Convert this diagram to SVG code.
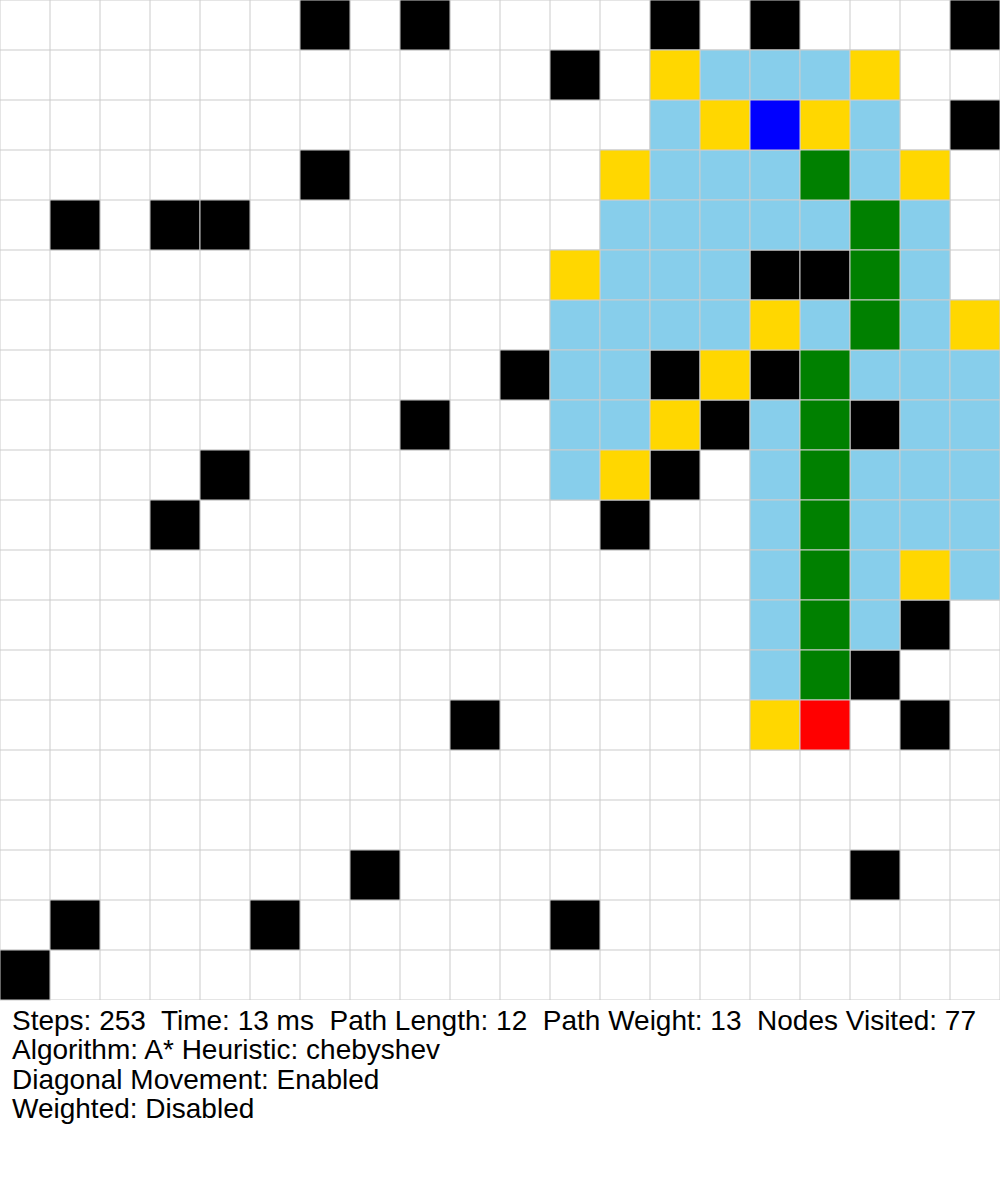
<svg xmlns="http://www.w3.org/2000/svg" width="1000" height="1200" viewBox="0 0 1000 1200">
<style>
rect{stroke:#ccc;stroke-width:1}
.e{fill:#fff}.w{fill:#000}.v{fill:#87ceeb}.f{fill:#ffd700}.p{fill:#008000}.s{fill:#0000ff}.t{fill:#ff0000}
text{font-family:"Liberation Sans",Arial,sans-serif;font-size:28px;fill:#000;white-space:pre}
</style>
<rect x="0" y="0" width="1000" height="1200" style="fill:#fff;stroke:none"/>
<defs>
<pattern id="g" width="50" height="50" patternUnits="userSpaceOnUse">
<rect x="0" y="0" width="50" height="50" class="e"/>
</pattern>
</defs>
<g id="grid">
<rect x="0" y="0" width="1000" height="1000" style="fill:url(#g);stroke:none"/>
</g>
<g id="walls">
<rect x="300" y="0" width="50" height="50" class="w"/>
<rect x="400" y="0" width="50" height="50" class="w"/>
<rect x="650" y="0" width="50" height="50" class="w"/>
<rect x="750" y="0" width="50" height="50" class="w"/>
<rect x="950" y="0" width="50" height="50" class="w"/>
<rect x="550" y="50" width="50" height="50" class="w"/>
<rect x="950" y="100" width="50" height="50" class="w"/>
<rect x="300" y="150" width="50" height="50" class="w"/>
<rect x="50" y="200" width="50" height="50" class="w"/>
<rect x="150" y="200" width="50" height="50" class="w"/>
<rect x="200" y="200" width="50" height="50" class="w"/>
<rect x="750" y="250" width="50" height="50" class="w"/>
<rect x="800" y="250" width="50" height="50" class="w"/>
<rect x="500" y="350" width="50" height="50" class="w"/>
<rect x="650" y="350" width="50" height="50" class="w"/>
<rect x="750" y="350" width="50" height="50" class="w"/>
<rect x="400" y="400" width="50" height="50" class="w"/>
<rect x="700" y="400" width="50" height="50" class="w"/>
<rect x="850" y="400" width="50" height="50" class="w"/>
<rect x="200" y="450" width="50" height="50" class="w"/>
<rect x="650" y="450" width="50" height="50" class="w"/>
<rect x="150" y="500" width="50" height="50" class="w"/>
<rect x="600" y="500" width="50" height="50" class="w"/>
<rect x="900" y="600" width="50" height="50" class="w"/>
<rect x="850" y="650" width="50" height="50" class="w"/>
<rect x="450" y="700" width="50" height="50" class="w"/>
<rect x="900" y="700" width="50" height="50" class="w"/>
<rect x="350" y="850" width="50" height="50" class="w"/>
<rect x="850" y="850" width="50" height="50" class="w"/>
<rect x="50" y="900" width="50" height="50" class="w"/>
<rect x="250" y="900" width="50" height="50" class="w"/>
<rect x="550" y="900" width="50" height="50" class="w"/>
<rect x="0" y="950" width="50" height="50" class="w"/>
</g>
<g id="visited">
<rect x="700" y="50" width="50" height="50" class="v"/>
<rect x="750" y="50" width="50" height="50" class="v"/>
<rect x="800" y="50" width="50" height="50" class="v"/>
<rect x="650" y="100" width="50" height="50" class="v"/>
<rect x="850" y="100" width="50" height="50" class="v"/>
<rect x="650" y="150" width="50" height="50" class="v"/>
<rect x="700" y="150" width="50" height="50" class="v"/>
<rect x="750" y="150" width="50" height="50" class="v"/>
<rect x="850" y="150" width="50" height="50" class="v"/>
<rect x="600" y="200" width="50" height="50" class="v"/>
<rect x="650" y="200" width="50" height="50" class="v"/>
<rect x="700" y="200" width="50" height="50" class="v"/>
<rect x="750" y="200" width="50" height="50" class="v"/>
<rect x="800" y="200" width="50" height="50" class="v"/>
<rect x="900" y="200" width="50" height="50" class="v"/>
<rect x="600" y="250" width="50" height="50" class="v"/>
<rect x="650" y="250" width="50" height="50" class="v"/>
<rect x="700" y="250" width="50" height="50" class="v"/>
<rect x="900" y="250" width="50" height="50" class="v"/>
<rect x="550" y="300" width="50" height="50" class="v"/>
<rect x="600" y="300" width="50" height="50" class="v"/>
<rect x="650" y="300" width="50" height="50" class="v"/>
<rect x="700" y="300" width="50" height="50" class="v"/>
<rect x="800" y="300" width="50" height="50" class="v"/>
<rect x="900" y="300" width="50" height="50" class="v"/>
<rect x="550" y="350" width="50" height="50" class="v"/>
<rect x="600" y="350" width="50" height="50" class="v"/>
<rect x="850" y="350" width="50" height="50" class="v"/>
<rect x="900" y="350" width="50" height="50" class="v"/>
<rect x="950" y="350" width="50" height="50" class="v"/>
<rect x="550" y="400" width="50" height="50" class="v"/>
<rect x="600" y="400" width="50" height="50" class="v"/>
<rect x="750" y="400" width="50" height="50" class="v"/>
<rect x="900" y="400" width="50" height="50" class="v"/>
<rect x="950" y="400" width="50" height="50" class="v"/>
<rect x="550" y="450" width="50" height="50" class="v"/>
<rect x="750" y="450" width="50" height="50" class="v"/>
<rect x="850" y="450" width="50" height="50" class="v"/>
<rect x="900" y="450" width="50" height="50" class="v"/>
<rect x="950" y="450" width="50" height="50" class="v"/>
<rect x="750" y="500" width="50" height="50" class="v"/>
<rect x="850" y="500" width="50" height="50" class="v"/>
<rect x="900" y="500" width="50" height="50" class="v"/>
<rect x="950" y="500" width="50" height="50" class="v"/>
<rect x="750" y="550" width="50" height="50" class="v"/>
<rect x="850" y="550" width="50" height="50" class="v"/>
<rect x="950" y="550" width="50" height="50" class="v"/>
<rect x="750" y="600" width="50" height="50" class="v"/>
<rect x="850" y="600" width="50" height="50" class="v"/>
<rect x="750" y="650" width="50" height="50" class="v"/>
</g>
<g id="frontier">
<rect x="650" y="50" width="50" height="50" class="f"/>
<rect x="850" y="50" width="50" height="50" class="f"/>
<rect x="700" y="100" width="50" height="50" class="f"/>
<rect x="800" y="100" width="50" height="50" class="f"/>
<rect x="600" y="150" width="50" height="50" class="f"/>
<rect x="900" y="150" width="50" height="50" class="f"/>
<rect x="550" y="250" width="50" height="50" class="f"/>
<rect x="750" y="300" width="50" height="50" class="f"/>
<rect x="950" y="300" width="50" height="50" class="f"/>
<rect x="700" y="350" width="50" height="50" class="f"/>
<rect x="650" y="400" width="50" height="50" class="f"/>
<rect x="600" y="450" width="50" height="50" class="f"/>
<rect x="900" y="550" width="50" height="50" class="f"/>
<rect x="750" y="700" width="50" height="50" class="f"/>
</g>
<g id="path">
<rect x="800" y="150" width="50" height="50" class="p"/>
<rect x="850" y="200" width="50" height="50" class="p"/>
<rect x="850" y="250" width="50" height="50" class="p"/>
<rect x="850" y="300" width="50" height="50" class="p"/>
<rect x="800" y="350" width="50" height="50" class="p"/>
<rect x="800" y="400" width="50" height="50" class="p"/>
<rect x="800" y="450" width="50" height="50" class="p"/>
<rect x="800" y="500" width="50" height="50" class="p"/>
<rect x="800" y="550" width="50" height="50" class="p"/>
<rect x="800" y="600" width="50" height="50" class="p"/>
<rect x="800" y="650" width="50" height="50" class="p"/>
</g>
<g id="start"><rect x="750" y="100" width="50" height="50" class="s"/></g>
<g id="end"><rect x="800" y="700" width="50" height="50" class="t"/></g>
<g id="stats">
<text x="12" y="1030">Steps: 253  Time: 13 ms  Path Length: 12  Path Weight: 13  Nodes Visited: 77</text>
<text x="12" y="1059">Algorithm: A* Heuristic: chebyshev</text>
<text x="12" y="1089">Diagonal Movement: Enabled</text>
<text x="12" y="1118">Weighted: Disabled</text>
</g>
</svg>
